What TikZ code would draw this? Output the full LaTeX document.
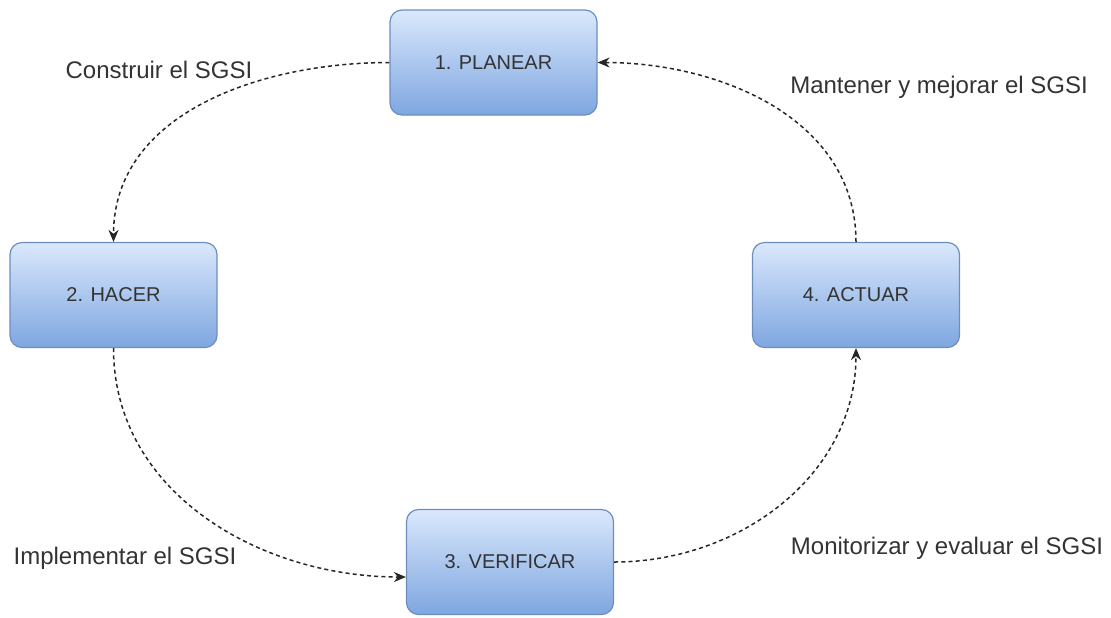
\documentclass[tikz,border=0pt]{standalone}
\usepackage{fontspec}
\setmainfont{Liberation Sans}
\usetikzlibrary{arrows.meta}
\def\boxwidth{103.5pt}
\def\boxheight{52.5pt}
\definecolor{boxtop}{HTML}{DAE8FC}
\definecolor{boxbottom}{HTML}{7EA6E0}
\definecolor{boxline}{HTML}{6C8EBF}
\definecolor{textgray}{HTML}{333333}

\begin{document}
\begin{tikzpicture}[x=0.5pt,y=-0.5pt,>={Stealth[length=6pt,width=5pt]}]
            \tikzstyle{phase}=[rectangle,rounded corners=6pt,draw=boxline,line width=0.6pt,
                top color=boxtop,bottom color=boxbottom,minimum width=\boxwidth,
                minimum height=\boxheight,inner sep=0pt,text=textgray,font=\fontsize{10}{12}\selectfont]
            \tikzstyle{cycle}=[->,draw=black!85,line width=0.75pt,dash pattern=on 2pt off 1.6pt]
            \tikzstyle{annot}=[text=textgray,font=\fontsize{12}{14}\selectfont]

            \useasboundingbox (0,0) rectangle (1111,617);

            % Draw the four phases of the cycle
            \foreach \name / \x / \y / \txt in {P/493.5/62.5/1. PLANEAR, H/113.5/295/2. HACER,
                    V/510/562/3. VERIFICAR, A/856/295/4. ACTUAR}
                \node[phase] (\name) at (\x,\y) {\txt};

            \coordinate (V-in) at ([yshift=-7.5pt]V.west);

            % Connect each phase with the next one
            \foreach \source / \target / \o / \i in {P.west/H.north/180/90, H.south/V-in/270/180,
                    V.east/A.south/0/270, A.north/P.east/90/0}
                \draw[cycle] (\source) to[out=\o,in=\i] (\target);

            % Annotate the connectors
            \node[annot] (build) at (159,70) {Construir el SGSI};
            \node[annot] (keep) at (939,87) {Mantener y mejorar el SGSI};
            \node[annot] (impl) at (125,558) {Implementar el SGSI};
            \node[annot] (check) at (947,548) {Monitorizar y evaluar el SGSI};
        \end{tikzpicture}
\end{document}
